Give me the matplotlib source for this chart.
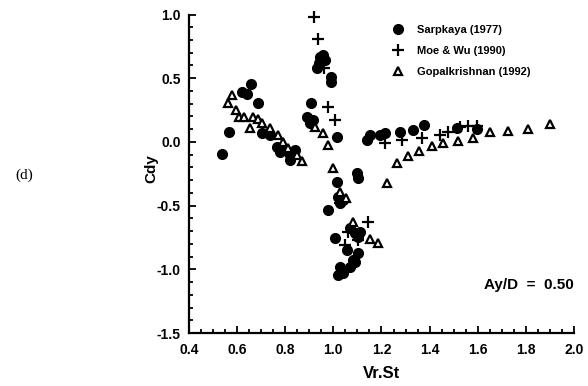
import numpy as np
import matplotlib
matplotlib.use("Agg")
from matplotlib import pyplot as plt
from matplotlib.ticker import MultipleLocator

plt.rcParams['font.family'] = ['Liberation Sans', 'DejaVu Sans']
plt.rcParams['font.weight'] = 'bold'
plt.rcParams['axes.unicode_minus'] = False

# Sarpkaya (1977)
sarp_x = [0.537, 0.566, 0.620, 0.641, 0.658, 0.687, 0.703, 0.728, 0.737, 0.766,
          0.778, 0.799, 0.820, 0.841, 0.820, 0.890, 0.903, 0.915, 0.907, 0.932,
          0.940, 0.944, 0.957, 0.965, 0.990, 0.990, 1.015, 1.098, 1.102, 1.015,
          1.019, 1.028, 1.040, 0.978, 1.007, 1.069, 1.090, 1.102, 1.111, 1.057,
          1.082, 1.102, 1.028, 1.019, 1.040, 1.069, 1.090, 1.140, 1.152, 1.194,
          1.215, 1.277, 1.331, 1.377, 1.514, 1.597]
sarp_y = [-0.094, 0.079, 0.393, 0.377, 0.456, 0.306, 0.071, 0.071, 0.055, -0.039,
          -0.079, -0.063, -0.102, -0.063, -0.141, 0.196, 0.149, 0.173, 0.306, 0.581,
          0.621, 0.668, 0.683, 0.644, 0.511, 0.471, 0.039, -0.244, -0.283, -0.314,
          -0.432, -0.479, -0.456, -0.534, -0.754, -0.676, -0.715, -0.746, -0.707, -0.848,
          -0.927, -0.872, -0.982, -1.045, -1.029, -0.982, -0.943, 0.016, 0.055, 0.055,
          0.071, 0.079, 0.094, 0.134, 0.110, 0.102]

# Moe & Wu (1990)
moe_x = [0.920, 0.936, 0.961, 0.978, 1.007, 1.028, 1.144, 1.061, 1.102, 1.048,
         1.215, 1.285, 1.368, 1.443, 1.476, 1.526, 1.560, 1.597]
moe_y = [0.982, 0.809, 0.581, 0.275, 0.173, -0.479, -0.628, -0.707, -0.770, -0.809,
         -0.008, 0.016, 0.031, 0.055, 0.079, 0.118, 0.126, 0.126]

# Gopalkrishnan (1992)
gop_x = [0.579, 0.562, 0.595, 0.608, 0.629, 0.666, 0.654, 0.687, 0.703, 0.737,
         0.770, 0.791, 0.811, 0.849, 0.870, 0.924, 0.957, 0.978, 0.999, 1.028,
         1.053, 1.082, 1.152, 1.186, 1.223, 1.264, 1.310, 1.356, 1.410, 1.456,
         1.518, 1.580, 1.651, 1.726, 1.809, 1.900]
gop_y = [0.369, 0.306, 0.251, 0.196, 0.196, 0.196, 0.110, 0.181, 0.149, 0.110,
         0.055, 0.000, -0.047, -0.102, -0.149, 0.118, 0.071, -0.024, -0.204, -0.393,
         -0.440, -0.628, -0.762, -0.793, -0.322, -0.165, -0.110, -0.071, -0.031, -0.008,
         0.008, 0.031, 0.079, 0.086, 0.102, 0.141]

fig = plt.figure(figsize=(5.88, 3.86), dpi=100)
ax = fig.add_axes([0.3214, 0.1373, 0.6548, 0.8251])

ax.plot(sarp_x, sarp_y, 'o', color='black', markersize=7, clip_on=False, label='Sarpkaya (1977)')
ax.plot(moe_x, moe_y, '+', color='black', markersize=8, markeredgewidth=1.6, clip_on=False,
        label='Moe & Wu (1990)')
ax.plot(gop_x, gop_y, '^', markerfacecolor='white', markeredgecolor='black', markersize=6,
        markeredgewidth=1.6, clip_on=False, label='Gopalkrishnan (1992)')

ax.set_xlim(0.4, 2.0)
ax.set_ylim(-1.5, 1.0)
ax.xaxis.set_major_locator(MultipleLocator(0.2))
ax.xaxis.set_minor_locator(MultipleLocator(0.05))
ax.yaxis.set_major_locator(MultipleLocator(0.5))
ax.yaxis.set_minor_locator(MultipleLocator(0.1))
ax.spines['top'].set_visible(False)
ax.spines['right'].set_visible(False)
ax.spines['left'].set_linewidth(1.6)
ax.spines['bottom'].set_linewidth(1.6)
ax.tick_params(which='both', direction='in', width=1.3, labelsize=10)
ax.tick_params(which='major', length=5)
ax.tick_params(which='minor', length=3)
ax.tick_params(axis='y', pad=6)
ax.tick_params(axis='x', pad=7)

ax.set_xlabel('Vr.St', fontsize=12, fontweight='bold', labelpad=7)
ax.set_ylabel('Cdy', fontsize=11, fontweight='bold')
ax.yaxis.set_label_coords(-0.08, 0.515)

ax.text(1.0, 0.151, 'Ay/D  =  0.50', transform=ax.transAxes, ha='right', va='center',
        fontsize=11, fontweight='bold')

leg = ax.legend(loc='upper left', bbox_to_anchor=(0.5, 1.0), frameon=False,
                handletextpad=1.1, labelspacing=1.0, handlelength=1.2,
                prop={'weight': 'bold', 'size': 8})

fig.text(15 / 588, 1 - 175 / 386, '(d)', family='Liberation Serif', fontweight='normal',
         fontsize=11, va='center', ha='left')

fig.savefig('out.png', dpi=100)
